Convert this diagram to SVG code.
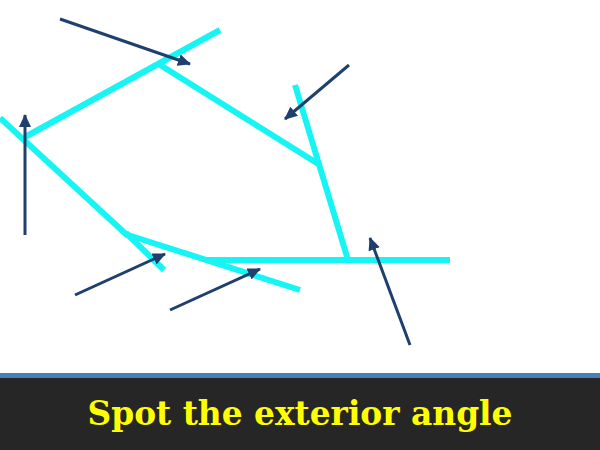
<svg xmlns="http://www.w3.org/2000/svg" width="600" height="450" viewBox="0 0 600 450">
<style>
.edge{stroke:#16F4F4;stroke-width:6;fill:none;stroke-linecap:butt}
.arr{stroke:#1F3F6E;stroke-width:3;fill:none;marker-end:url(#ah)}
.title{font-family:"DejaVu Serif","Liberation Serif",serif;font-weight:bold;font-size:34px;fill:#FFFF00}
</style>
<defs>
<marker id="ah" markerUnits="userSpaceOnUse" markerWidth="14" markerHeight="12" refX="12" refY="6" orient="auto">
<path d="M0,0 L13,6 L0,12 Z" fill="#1F3F6E"/>
</marker>
</defs>
<rect width="600" height="450" fill="#FFFFFF"/>
<g id="polygon">
<line class="edge" x1="25" y1="137" x2="220" y2="30"/>
<line class="edge" x1="157" y1="63" x2="320" y2="165"/>
<line class="edge" x1="295" y1="85" x2="348" y2="260"/>
<line class="edge" x1="205" y1="260" x2="450" y2="260"/>
<line class="edge" x1="128" y1="235" x2="300" y2="290"/>
<line class="edge" x1="0" y1="118" x2="128" y2="236"/>
<line class="edge" x1="126" y1="233" x2="164" y2="270"/>
</g>
<g id="arrows">
<line class="arr" x1="60" y1="19" x2="190" y2="64"/>
<line class="arr" x1="349" y1="65" x2="285" y2="119"/>
<line class="arr" x1="25" y1="235" x2="25" y2="115"/>
<line class="arr" x1="75" y1="295" x2="165" y2="254"/>
<line class="arr" x1="170" y1="310" x2="260" y2="269"/>
<line class="arr" x1="410" y1="345" x2="370" y2="238"/>
</g>
<g id="footer">
<rect x="0" y="373" width="600" height="5" fill="#4A7EBB"/>
<rect x="0" y="378" width="600" height="72" fill="#262626"/>
<text class="title" x="300" y="425" text-anchor="middle" textLength="425" lengthAdjust="spacingAndGlyphs">Spot the exterior angle</text>
</g>
</svg>
